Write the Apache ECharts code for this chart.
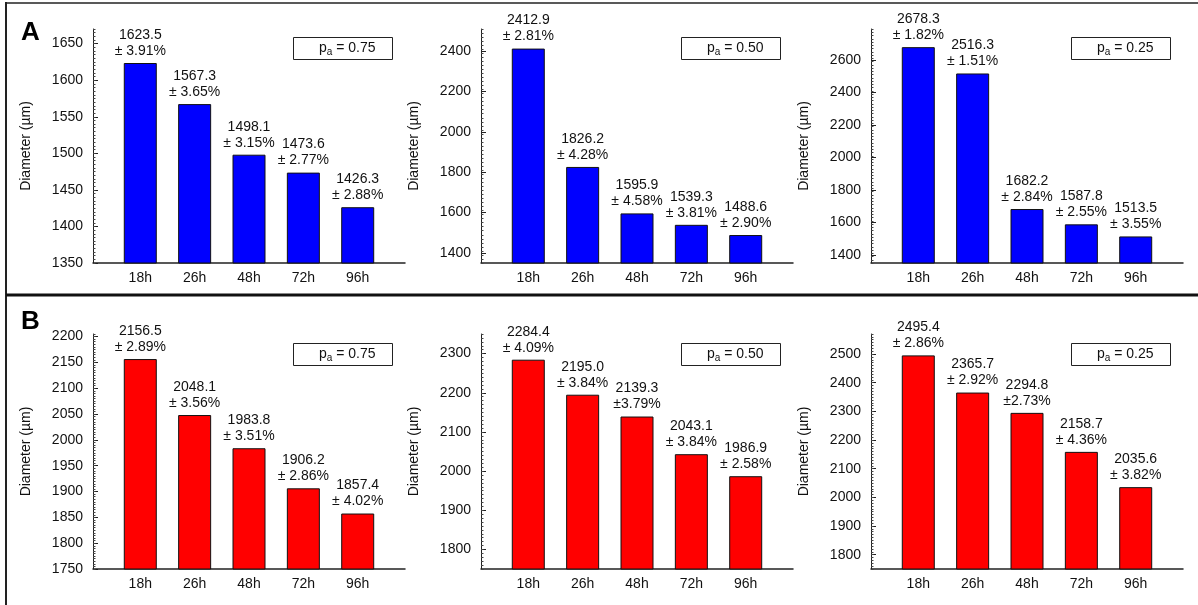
<!DOCTYPE html>
<html>
<head>
    <meta charset="utf-8">
    <title>Diameter by time</title>
    <script src="https://cdn.jsdelivr.net/npm/echarts@6.0.0/dist/echarts.min.js"></script>
    <style>
        body, html { margin: 0; padding: 0; height: 100%; overflow: hidden; background: #fff; }
        #main { width: 1198px; height: 605px; }
    </style>
</head>
<body>
    <div id="main"></div>
    <script>
        var chart = echarts.init(document.getElementById('main'));

        // categories (x axis)
        const categories = ['18h', '26h', '48h', '72h', '96h'];

        // row A (blue)
        const a75 = [1623.5, 1567.3, 1498.1, 1473.6, 1426.3];
        const a75Err = ['± 3.91%', '± 3.65%', '± 3.15%', '± 2.77%', '± 2.88%'];
        const a50 = [2412.9, 1826.2, 1595.9, 1539.3, 1488.6];
        const a50Err = ['± 2.81%', '± 4.28%', '± 4.58%', '± 3.81%', '± 2.90%'];
        const a25 = [2678.3, 2516.3, 1682.2, 1587.8, 1513.5];
        const a25Err = ['± 1.82%', '± 1.51%', '± 2.84%', '± 2.55%', '± 3.55%'];

        // row B (red)
        const b75 = [2156.5, 2048.1, 1983.8, 1906.2, 1857.4];
        const b75Err = ['± 2.89%', '± 3.56%', '± 3.51%', '± 2.86%', '± 4.02%'];
        const b50 = [2284.4, 2195.0, 2139.3, 2043.1, 1986.9];
        const b50Err = ['± 4.09%', '± 3.84%', '±3.79%', '± 3.84%', '± 2.58%'];
        const b25 = [2495.4, 2365.7, 2294.8, 2158.7, 2035.6];
        const b25Err = ['± 2.86%', '± 2.92%', '±2.73%', '± 4.36%', '± 3.82%'];

        // y tick labels per panel
        const ticksA75 = [1350, 1400, 1450, 1500, 1550, 1600, 1650];
        const ticksA50 = [1400, 1600, 1800, 2000, 2200, 2400];
        const ticksA25 = [1400, 1600, 1800, 2000, 2200, 2400, 2600];
        const ticksB75 = [1750, 1800, 1850, 1900, 1950, 2000, 2050, 2100, 2150, 2200];
        const ticksB50 = [1800, 1900, 2000, 2100, 2200, 2300];
        const ticksB25 = [1800, 1900, 2000, 2100, 2200, 2300, 2400, 2500];

        const paLabels = ['0.75', '0.50', '0.25'];

        const FONT = "'Liberation Sans', Arial, sans-serif";
        const BLUE = '#0000ff';
        const RED = '#ff0000';

        const panels = [
            { values: a75, errs: a75Err, ticks: ticksA75, min: 1350, max: 1670, minor: 5,  color: BLUE, row: 0, col: 0, pa: paLabels[0] },
            { values: a50, errs: a50Err, ticks: ticksA50, min: 1350, max: 2510, minor: 20, color: BLUE, row: 0, col: 1, pa: paLabels[1] },
            { values: a25, errs: a25Err, ticks: ticksA25, min: 1350, max: 2790, minor: 20, color: BLUE, row: 0, col: 2, pa: paLabels[2] },
            { values: b75, errs: b75Err, ticks: ticksB75, min: 1750, max: 2205, minor: 5,  color: RED,  row: 1, col: 0, pa: paLabels[0] },
            { values: b50, errs: b50Err, ticks: ticksB50, min: 1750, max: 2350, minor: 10, color: RED,  row: 1, col: 1, pa: paLabels[1] },
            { values: b25, errs: b25Err, ticks: ticksB25, min: 1750, max: 2570, minor: 10, color: RED,  row: 1, col: 2, pa: paLabels[2] }
        ];

        const gridLeft = [93, 481, 871];
        const gridTop = [29, 334];
        const gridH = [234, 235];
        const boxLeft = [293, 681, 1071];
        const boxTop = [35, 341];

        const grids = [], xAxes = [], yAxes = [], series = [], titles = [];

        panels.forEach(function (p, i) {
            grids.push({ left: gridLeft[p.col], top: gridTop[p.row], width: 312, height: gridH[p.row] });

            xAxes.push({
                type: 'value', gridIndex: i, min: -0.87, max: 4.87,
                splitLine: { show: false },
                axisLine: { show: true, onZero: false, lineStyle: { color: '#222', width: 1.5 } },
                axisTick: { show: false },
                axisLabel: {
                    customValues: [0, 1, 2, 3, 4],
                    formatter: function (v) { return categories[Math.round(v)]; },
                    color: '#111', fontSize: 14, fontFamily: FONT, margin: 8
                }
            });

            // main axis: line, labels, major ticks
            yAxes.push({
                type: 'value', gridIndex: i, position: 'left', min: p.min, max: p.max,
                name: 'Diameter (µm)', nameLocation: 'middle', nameGap: 60,
                nameTextStyle: { color: '#111', fontSize: 14, fontFamily: FONT },
                splitLine: { show: false },
                axisLine: { show: true, onZero: false, lineStyle: { color: '#222', width: 1 } },
                axisTick: { show: true, inside: true, length: 5, customValues: p.ticks, lineStyle: { color: '#222' } },
                axisLabel: {
                    customValues: p.ticks,
                    formatter: function (v) { return String(v); },
                    color: '#111', fontSize: 14, fontFamily: FONT, margin: 10
                }
            });
            // minor ticks
            yAxes.push({
                type: 'value', gridIndex: i, position: 'left', min: p.min, max: p.max, interval: p.minor,
                splitLine: { show: false },
                axisLine: { show: false, onZero: false },
                axisLabel: { show: false },
                axisTick: { show: true, inside: true, length: 2.5, lineStyle: { color: '#444' } }
            });

            series.push({
                type: 'bar', xAxisIndex: i, yAxisIndex: i * 2, barWidth: 33,
                data: p.values.map(function (v, k) { return [k, v]; }),
                itemStyle: { color: p.color, borderColor: '#111', borderWidth: 1 },
                label: {
                    show: true, position: 'top', distance: 4,
                    formatter: function (prm) {
                        return '{t|' + prm.value[1].toFixed(1) + '}\n{t|' + p.errs[prm.dataIndex] + '}';
                    },
                    rich: { t: { fontSize: 14, lineHeight: 16, color: '#111', fontFamily: FONT, align: 'center' } }
                }
            });

            titles.push({
                left: boxLeft[p.col], top: boxTop[p.row],
                text: '{p|p}{s|a}{p| = ' + p.pa + '}',
                borderColor: '#222', borderWidth: 1,
                padding: [4, 17, 3, 26],
                textStyle: {
                    fontWeight: 'normal',
                    rich: {
                        p: { fontSize: 14, lineHeight: 18, color: '#111', fontFamily: FONT, fontWeight: 'normal' },
                        s: { fontSize: 10, lineHeight: 10, color: '#111', fontFamily: FONT, fontWeight: 'normal', verticalAlign: 'bottom' }
                    }
                }
            });
        });

        const option = {
            animation: false,
            backgroundColor: '#fff',
            title: titles,
            grid: grids,
            xAxis: xAxes,
            yAxis: yAxes,
            series: series,
            graphic: [
                { type: 'line', shape: { x1: 6, y1: 3, x2: 1198, y2: 3 }, style: { stroke: '#222', lineWidth: 1.5 } },
                { type: 'line', shape: { x1: 6, y1: 2, x2: 6, y2: 605 }, style: { stroke: '#222', lineWidth: 2 } },
                { type: 'line', shape: { x1: 6, y1: 295, x2: 1198, y2: 295 }, style: { stroke: '#111', lineWidth: 3 } },
                { type: 'text', left: 21, top: 20, style: { text: 'A', fontSize: 26, fontWeight: 'bold', fontFamily: FONT, fill: '#000' } },
                { type: 'text', left: 21, top: 309, style: { text: 'B', fontSize: 26, fontWeight: 'bold', fontFamily: FONT, fill: '#000' } }
            ]
        };

        chart.setOption(option);
    </script>
</body>
</html>
